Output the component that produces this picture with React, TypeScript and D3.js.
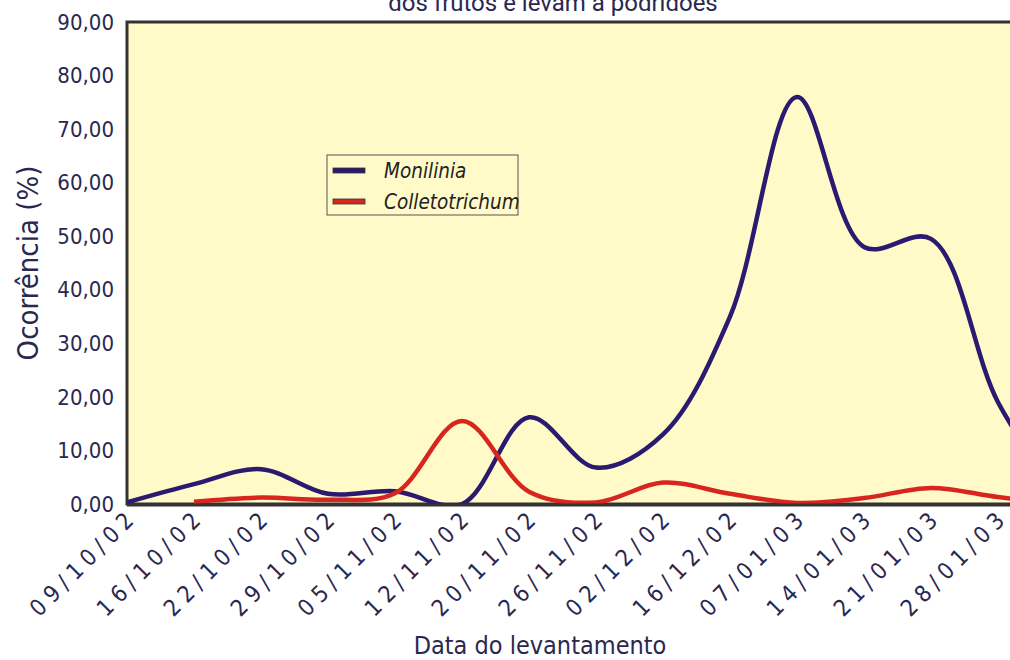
import React, { useEffect, useRef } from "react";
import * as d3 from "d3";

// levantamentos (the last date runs off the right edge of the picture)
const categories = [
  "09/10/02", "16/10/02", "22/10/02", "29/10/02", "05/11/02", "12/11/02", "20/11/02",
  "26/11/02", "02/12/02", "16/12/02", "07/01/03", "14/01/03", "21/01/03", "28/01/03", "04/02/03",
];
const monilinia = [0.3, 3.7, 6.5, 1.9, 2.4, 0, 16.2, 6.8, 13, 35, 76, 48, 49.5, 19, 0];
const colletotrichum = [null, 0.4, 1.2, 0.8, 2.0, 15.5, 2.3, 0.3, 4.0, 1.9, 0.2, 1.1, 3.0, 1.3, 0];
const yTicks = [0, 10, 20, 30, 40, 50, 60, 70, 80, 90];
const seriesNames = ["Monilinia", "Colletotrichum"];
const seriesColors = ["#2a1a70", "#d8261e"];

const W = 1010;
const H = 660;
const textColor = "#2a2850";
const narrow = "'Liberation Sans Narrow', 'DejaVu Sans Condensed', sans-serif";

const App = () => {
  const ref = useRef<SVGSVGElement>(null);

  useEffect(() => {
    const svg = d3.select(ref.current);
    svg.selectAll("*").remove();

    const left = 127, top = 22, bottom = 504;
    const x = d3.scalePoint<string>().domain(categories).range([left, left + 67 * (categories.length - 1)]);
    const y = d3.scaleLinear().domain([0, 90]).range([bottom, top]);

    // title line (the rest is cut off above)
    svg.append("text")
      .attr("x", 553).attr("y", 11)
      .attr("text-anchor", "middle")
      .attr("font-family", "Roboto, sans-serif")
      .attr("font-size", 24)
      .attr("fill", textColor)
      .text("dos frutos e levam a podridões");

    // plot background + frame
    svg.append("rect")
      .attr("x", left).attr("y", top)
      .attr("width", W + 20 - left).attr("height", bottom - top)
      .attr("fill", "#fffac8")
      .attr("stroke", "#333")
      .attr("stroke-width", 3);

    // y tick labels
    svg.append("g")
      .selectAll("text")
      .data(yTicks)
      .enter()
      .append("text")
      .attr("x", 114)
      .attr("y", (d) => y(d))
      .attr("dy", "0.35em")
      .attr("text-anchor", "end")
      .attr("font-family", narrow)
      .attr("font-size", 22)
      .attr("fill", textColor)
      .text((d) => d3.format(".2f")(d).replace(".", ","));

    svg.append("text")
      .attr("transform", `translate(38,${(top + bottom) / 2}) rotate(-90)`)
      .attr("text-anchor", "middle")
      .attr("font-family", narrow)
      .attr("font-size", 29)
      .attr("fill", textColor)
      .text("Ocorrência (%)");

    // x tick labels, rotated; labels whose date lies past the edge are not shown
    svg.append("g")
      .selectAll("text")
      .data(categories.filter((d) => (x(d) as number) < W))
      .enter()
      .append("text")
      .attr("transform", (d) => `translate(${(x(d) as number) + 12},${bottom + 14}) rotate(-45)`)
      .attr("text-anchor", "end")
      .attr("font-family", narrow)
      .attr("font-size", 23)
      .attr("letter-spacing", 6)
      .attr("fill", textColor)
      .text((d) => d);

    svg.append("text")
      .attr("x", 540).attr("y", 654)
      .attr("text-anchor", "middle")
      .attr("font-family", narrow)
      .attr("font-size", 25)
      .attr("fill", textColor)
      .text("Data do levantamento");

    // lines
    const series = [monilinia, colletotrichum];
    const line = d3.line<number | null>()
      .defined((d) => d !== null)
      .x((_, i) => x(categories[i]) as number)
      .y((d) => y(d as number))
      .curve(d3.curveCatmullRom.alpha(0.5));

    const plot = svg.append("g");
    plot.append("clipPath").attr("id", "plot-clip")
      .append("rect").attr("x", left).attr("y", top - 10).attr("width", W).attr("height", bottom - top + 12);

    series.forEach((s, i) => {
      plot.append("path")
        .attr("d", line(s))
        .attr("fill", "none")
        .attr("stroke", seriesColors[i])
        .attr("stroke-width", 4.5)
        .attr("stroke-linejoin", "round")
        .attr("clip-path", "url(#plot-clip)");
    });

    // bottom axis line drawn over the curves
    svg.append("line")
      .attr("x1", left).attr("x2", W)
      .attr("y1", bottom + 1).attr("y2", bottom + 1)
      .attr("stroke", "#333").attr("stroke-width", 3);

    // legend
    const lg = svg.append("g").attr("transform", "translate(327,155)");
    lg.append("rect")
      .attr("width", 191).attr("height", 60)
      .attr("fill", "#fffac8")
      .attr("stroke", "#555")
      .attr("stroke-width", 1);
    seriesNames.forEach((name, i) => {
      lg.append("rect")
        .attr("x", 6).attr("y", 13 + i * 31)
        .attr("width", 32).attr("height", 5)
        .attr("fill", seriesColors[i])
        .attr("stroke", "#333")
        .attr("stroke-width", 0.8);
      lg.append("text")
        .attr("x", 57).attr("y", 23 + i * 31)
        .attr("font-family", narrow)
        .attr("font-style", "italic")
        .attr("font-size", 20.5)
        .attr("fill", "#222")
        .text(name);
    });
  }, []);

  return (
    <svg ref={ref} width={W} height={H} style={{ position: "absolute", left: 0, top: 0 }} />
  );
};

export default App;
